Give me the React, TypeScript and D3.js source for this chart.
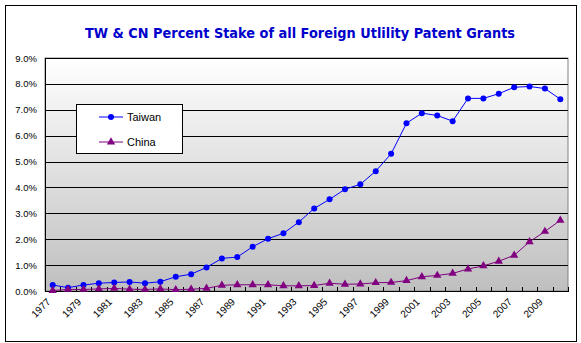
import React from "react";
import * as d3 from "d3";

const years = [1977,1978,1979,1980,1981,1982,1983,1984,1985,1986,1987,1988,1989,1990,1991,1992,1993,1994,1995,1996,1997,1998,1999,2000,2001,2002,2003,2004,2005,2006,2007,2008,2009,2010];
const taiwan = [0.23,0.13,0.23,0.3,0.33,0.35,0.3,0.36,0.55,0.65,0.91,1.26,1.31,1.71,2.02,2.23,2.66,3.19,3.54,3.93,4.12,4.63,5.3,6.48,6.87,6.78,6.56,7.44,7.44,7.62,7.87,7.9,7.82,7.41];
const china = [0.02,0.06,0.06,0.08,0.1,0.07,0.06,0.08,0.05,0.07,0.1,0.22,0.24,0.24,0.24,0.2,0.2,0.21,0.3,0.26,0.27,0.32,0.33,0.4,0.55,0.6,0.68,0.85,0.97,1.15,1.38,1.9,2.3,2.73];
const yTicks = [0,1,2,3,4,5,6,7,8,9];
const xLabelYears = years.filter((y) => (y - 1977) % 2 === 0 && y <= 2009);
const seriesNames = ["Taiwan", "China"];

const W = 581, H = 343;
const L = 45, R = 568, T = 58, B = 291;

export default function App() {
  const x = d3.scaleBand<number>().domain(years).range([L, R]);
  const y = d3.scaleLinear().domain([0, 9]).range([B, T]);
  const cx = (yr: number) => (x(yr) as number) + x.bandwidth() / 2;
  const line = d3.line<number>().x((_, i) => cx(years[i])).y((v) => y(v));
  const tri = d3.symbol().type(d3.symbolTriangle).size(30)();
  const font = "'Liberation Sans', Arial, sans-serif";

  return (
    <svg width={W} height={H} style={{ position: "absolute", left: 0, top: 0 }}>
      <defs>
        <linearGradient id="bg" x1="0" y1="0" x2="0" y2="1">
          <stop offset="0" stopColor="#ffffff" />
          <stop offset="1" stopColor="#bfbfbf" />
        </linearGradient>
      </defs>
      <rect x={0} y={0} width={W} height={H} fill="#fff" />
      <rect x={5.5} y={5.5} width={571} height={336} fill="#fff" stroke="#000" strokeWidth={1} />
      <text x={300} y={38} textAnchor="middle" fontFamily="'DejaVu Sans', sans-serif" fontWeight="bold" fontSize={14.5} fill="#0000cc" textLength={430} lengthAdjust="spacingAndGlyphs">
        TW &amp; CN Percent Stake of all Foreign Utlility Patent Grants
      </text>
      <rect x={L} y={T} width={R - L} height={B - T} fill="url(#bg)" stroke="#808080" strokeWidth={1} />
      {yTicks.map((t) => (
        <g key={t}>
          {t > 0 && <line x1={L} x2={R} y1={Math.round(y(t)) + 0.5} y2={Math.round(y(t)) + 0.5} stroke="#000" strokeWidth={1} />}
          <text x={37} y={y(t) + 3.5} textAnchor="end" fontFamily={font} fontSize={9.5} fill="#000">
            {t.toFixed(1)}%
          </text>
        </g>
      ))}
      <line x1={L} x2={R} y1={B + 0.5} y2={B + 0.5} stroke="#000" />
      <line x1={L + 0.5} x2={L + 0.5} y1={T} y2={B} stroke="#000" />
      {years.concat([0]).map((yr, i) => {
        const xx = Math.round(L + i * x.step()) + 0.5;
        return <line key={"tk" + i} x1={xx} x2={xx} y1={B - 4} y2={B + 1} stroke="#000" />;
      })}
      {xLabelYears.map((yr) => (
        <text key={yr} transform={`translate(${cx(yr) - 4},${B + 9}) rotate(-45)`} textAnchor="end" fontFamily={font} fontSize={10} fill="#000" dy="0.35em">
          {yr}
        </text>
      ))}
      <path d={line(taiwan) as string} fill="none" stroke="#0000ff" strokeWidth={1} />
      {taiwan.map((v, i) => (
        <circle key={"t" + i} cx={cx(years[i])} cy={y(v)} r={3} fill="#0000ff" />
      ))}
      <path d={line(china) as string} fill="none" stroke="#800080" strokeWidth={1} />
      {china.map((v, i) => (
        <path key={"c" + i} d={tri as string} transform={`translate(${cx(years[i])},${y(v)})`} fill="#800080" />
      ))}
      <rect x={76.5} y={104.5} width={106} height={49} fill="#fff" stroke="#000" />
      {seriesNames.map((n, i) => {
        const ly = 117 + i * 25;
        const col = i === 0 ? "#0000ff" : "#800080";
        return (
          <g key={n}>
            <line x1={99} x2={123} y1={ly} y2={ly} stroke={col} />
            {i === 0 ? <circle cx={111} cy={ly} r={3} fill={col} /> : <path d={tri as string} transform={`translate(111,${ly})`} fill={col} />}
            <text x={127} y={ly + 4} fontFamily={font} fontSize={11} fill="#000">{n}</text>
          </g>
        );
      })}
    </svg>
  );
}
